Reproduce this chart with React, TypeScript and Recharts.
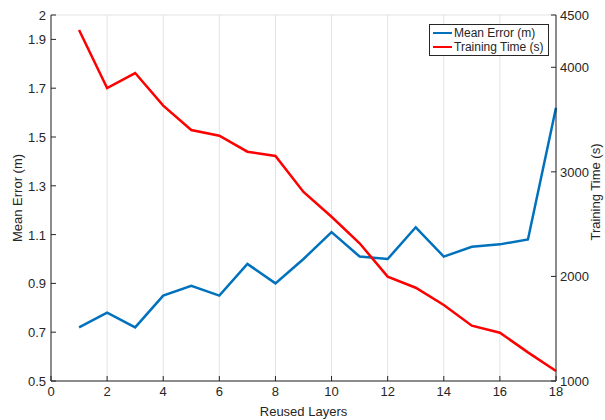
import React from 'react';
import { LineChart, Line, XAxis, YAxis, CartesianGrid } from 'recharts';

const layers = [1, 2, 3, 4, 5, 6, 7, 8, 9, 10, 11, 12, 13, 14, 15, 16, 17, 18];
const meanError = [0.72, 0.78, 0.72, 0.85, 0.89, 0.85, 0.98, 0.9, 1.0, 1.11, 1.01, 1.0, 1.13, 1.01, 1.05, 1.06, 1.08, 1.62];
const trainingTime = [4357, 3802, 3945, 3633, 3400, 3346, 3193, 3152, 2808, 2571, 2317, 1998, 1892, 1727, 1529, 1462, 1274, 1096];

const xTicks = [0, 2, 4, 6, 8, 10, 12, 14, 16, 18];
const leftTicks = [0.5, 0.7, 0.9, 1.1, 1.3, 1.5, 1.7, 1.9, 2];
const rightTicks = [1000, 2000, 3000, 4000, 4500];

const seriesNames = ['Mean Error (m)', 'Training Time (s)'];
const seriesColors = ['#0072bd', '#ff0000'];

const data = layers.map((layer, i) => ({
  layer,
  error: meanError[i],
  time: trainingTime[i],
}));

const FONT = '"Liberation Sans", Arial, Helvetica, sans-serif';
const INK = '#262626';
const TICK_LEN = 5;

const BottomTick = (props: any) => {
  const { x, y, payload } = props;
  const axisY = y - 4;
  return (
    <g>
      <line x1={x} y1={axisY} x2={x} y2={axisY - TICK_LEN} stroke={INK} />
      <text x={x} y={y} dy={11} textAnchor="middle" fill={INK} fontSize={13} fontFamily={FONT}>
        {payload.value}
      </text>
    </g>
  );
};

const TopTick = (props: any) => {
  const { x, y } = props;
  return <line x1={x} y1={y} x2={x} y2={y + TICK_LEN} stroke={INK} />;
};

const LeftTick = (props: any) => {
  const { x, y, payload } = props;
  const axisX = x + 5;
  return (
    <g>
      <line x1={axisX} y1={y} x2={axisX + TICK_LEN} y2={y} stroke={INK} />
      <text x={x} y={y} dy={5} textAnchor="end" fill={INK} fontSize={13} fontFamily={FONT}>
        {payload.value}
      </text>
    </g>
  );
};

const RightTick = (props: any) => {
  const { x, y, payload } = props;
  const axisX = x - 4;
  return (
    <g>
      <line x1={axisX} y1={y} x2={axisX - TICK_LEN} y2={y} stroke={INK} />
      <text x={x} y={y} dy={5} textAnchor="start" fill={INK} fontSize={13} fontFamily={FONT}>
        {payload.value}
      </text>
    </g>
  );
};

const AxisTitle = ({ viewBox, value, dx, dy = 0 }: any) => {
  const cx = viewBox.x + dx;
  const cy = viewBox.y + viewBox.height / 2 + dy;
  return (
    <text
      x={cx}
      y={cy}
      transform={`rotate(-90, ${cx}, ${cy})`}
      textAnchor="middle"
      fill={INK}
      fontSize={13}
      fontFamily={FONT}
    >
      {value}
    </text>
  );
};

const LegendBox = () => (
  <div
    style={{
      position: 'absolute',
      left: 429,
      top: 24,
      border: `1px solid ${INK}`,
      background: '#fff',
      padding: '1px 4px 1px 3px',
      fontFamily: FONT,
      fontSize: 12,
      color: INK,
      lineHeight: '14px',
    }}
  >
    {seriesNames.map((name, i) => (
      <div key={name} style={{ display: 'flex', alignItems: 'center' }}>
        <div style={{ width: 19, height: 2, background: seriesColors[i], marginRight: 2 }} />
        <span>{name}</span>
      </div>
    ))}
  </div>
);

export default function App() {
  return (
    <div style={{ position: 'absolute', left: 0, top: 0, width: 605, height: 420, background: '#fff', overflow: 'hidden' }}>
      <LineChart width={605} height={420} data={data} margin={{ top: 15, right: 0, bottom: 0, left: 0 }}>
        <CartesianGrid stroke="#e3e3e3" strokeWidth={1} />
        <XAxis
          dataKey="layer"
          type="number"
          domain={[0, 18]}
          ticks={xTicks}
          interval={0}
          height={39}
          stroke={INK}
          tickLine={false}
          tickSize={0}
          tickMargin={4}
          tick={<BottomTick />}
          label={{ value: 'Reused Layers', position: 'insideBottom', offset: 4, fill: INK, fontSize: 13, fontFamily: FONT }}
        />
        <XAxis
          xAxisId="top"
          orientation="top"
          dataKey="layer"
          type="number"
          domain={[0, 18]}
          ticks={xTicks}
          interval={0}
          height={0}
          stroke={INK}
          tickLine={false}
          tickSize={0}
          tickMargin={0}
          tick={<TopTick />}
        />
        <YAxis
          yAxisId="left"
          type="number"
          domain={[0.5, 2]}
          ticks={leftTicks}
          interval={0}
          width={51}
          stroke={INK}
          tickLine={false}
          tickSize={0}
          tickMargin={5}
          tick={<LeftTick />}
          label={<AxisTitle value="Mean Error (m)" dx={22} />}
        />
        <YAxis
          yAxisId="right"
          orientation="right"
          type="number"
          domain={[1000, 4500]}
          ticks={rightTicks}
          interval={0}
          width={49}
          stroke={INK}
          tickLine={false}
          tickSize={0}
          tickMargin={4}
          tick={<RightTick />}
          label={<AxisTitle value="Training Time (s)" dx={44} dy={-6} />}
        />
        <Line
          yAxisId="left"
          dataKey="error"
          name={seriesNames[0]}
          stroke={seriesColors[0]}
          strokeWidth={2.5}
          dot={false}
          isAnimationActive={false}
        />
        <Line
          yAxisId="right"
          dataKey="time"
          name={seriesNames[1]}
          stroke={seriesColors[1]}
          strokeWidth={2.5}
          dot={false}
          isAnimationActive={false}
        />
      </LineChart>
      <LegendBox />
    </div>
  );
}
